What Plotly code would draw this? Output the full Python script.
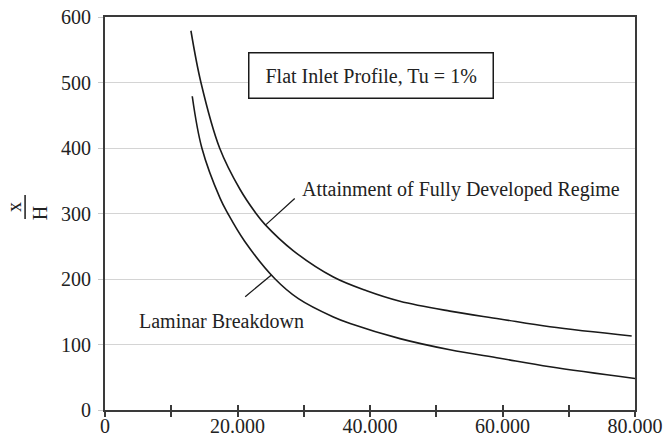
import plotly.graph_objects as go

# ---- data ----
UPPER_X = [12970, 14480, 17300, 20370, 22800, 24170, 28440, 34470, 39490, 44520, 52060, 59600, 67160, 79500]
UPPER_Y = [579, 500, 400, 337, 300, 283, 243, 203, 182, 166, 151, 139, 127, 113]

LOWER_X = [13170, 14620, 17380, 18540, 21050, 25680, 29190, 34470, 37000, 44520, 52060, 59600, 67160, 80000]
LOWER_Y = [479, 400, 323, 300, 258, 200, 170, 142, 132, 109, 92, 79, 66, 48]

X_TICK_VALS = [0, 10000, 20000, 30000, 40000, 50000, 60000, 70000, 80000]
X_TICK_TEXT = ["0", "", "20.000", "", "40.000", "", "60.000", "", "80.000"]
Y_TICK_VALS = [0, 100, 200, 300, 400, 500, 600]

BOX_TEXT = "Flat Inlet Profile, Tu = 1%"
BOX_POS = (40190, 510)
UPPER_LABEL = "Attainment of Fully Developed Regime"
UPPER_LABEL_POS = (29440, 337)
UPPER_LEADER = [(28860, 325), (24300, 283)]
LOWER_LABEL = "Laminar Breakdown"
LOWER_LABEL_POS = (4820, 136)
LOWER_LEADER = [(25340, 208), (21160, 173)]

FONT = "Liberation Serif, serif"
INK = "#1a1a1a"
AXC = "#3a3a3a"

fig = go.Figure()
fig.add_trace(go.Scatter(x=UPPER_X, y=UPPER_Y, mode="lines",
                         line=dict(color=INK, width=1.6, shape="spline", smoothing=1.0),
                         showlegend=False, hoverinfo="skip"))
fig.add_trace(go.Scatter(x=LOWER_X, y=LOWER_Y, mode="lines", xaxis="x2",
                         line=dict(color=INK, width=1.6, shape="spline", smoothing=1.0),
                         showlegend=False, hoverinfo="skip"))

tickfont = dict(family=FONT, size=20, color="#222")

fig.update_layout(
    width=666, height=440,
    margin=dict(l=105, r=31, t=17, b=30, autoexpand=False),
    paper_bgcolor="white", plot_bgcolor="white",
    font=dict(family=FONT, size=20, color="#222"),
    xaxis=dict(range=[0, 80000], tickvals=X_TICK_VALS, ticktext=X_TICK_TEXT,
               ticks="outside", ticklen=5, tickwidth=1.5, tickcolor=AXC,
               showline=True, linecolor=AXC, linewidth=2, mirror=True, automargin=False,
               showgrid=False, zeroline=False, tickfont=tickfont, ticklabelstandoff=-8),
    xaxis2=dict(range=[0, 80000], overlaying="x", matches="x", anchor="y", side="bottom",
                tickvals=X_TICK_VALS, ticks="inside", ticklen=5, tickwidth=1.5, tickcolor=AXC,
                automargin=False,
                showticklabels=False, showline=False, showgrid=False, zeroline=False),
    yaxis=dict(range=[0, 600], tickvals=Y_TICK_VALS, automargin=False,
               ticks="outside", ticklen=5, tickwidth=1, tickcolor="#c8c8c8",
               showline=True, linecolor=AXC, linewidth=2, mirror=True,
               showgrid=True, gridcolor="#d4d4d4", gridwidth=1.2,
               zeroline=False, tickfont=tickfont, ticklabelstandoff=3),
)

ann = []
ann.append(dict(x=BOX_POS[0], y=BOX_POS[1], xref="x", yref="y",
                text="\u00a0" + BOX_TEXT + "\u00a0", showarrow=False,
                font=dict(family=FONT, size=20, color="#222"),
                bordercolor=INK, borderwidth=1.5, borderpad=11, bgcolor="white"))
ann.append(dict(x=UPPER_LABEL_POS[0], y=UPPER_LABEL_POS[1], xref="x", yref="y",
                text=UPPER_LABEL, showarrow=False, xanchor="left",
                font=dict(family=FONT, size=20, color="#222")))
ann.append(dict(x=LOWER_LABEL_POS[0], y=LOWER_LABEL_POS[1], xref="x", yref="y",
                text=LOWER_LABEL, showarrow=False, xanchor="left",
                font=dict(family=FONT, size=20, color="#222")))
for (sx, sy), (ex, ey) in [UPPER_LEADER, LOWER_LEADER]:
    ann.append(dict(x=ex, y=ey, xref="x", yref="y", ax=sx, ay=sy, axref="x", ayref="y",
                    text="", showarrow=True, arrowhead=0, arrowwidth=1.3, arrowcolor=INK))
# y-axis title: rotated fraction x / H
ann.append(dict(x=-0.1715, y=0.5165, xref="paper", yref="paper", text="x", textangle=-90,
                xanchor="center", yanchor="middle",
                showarrow=False, font=dict(family=FONT, size=20, color="#222")))
ann.append(dict(x=-0.1225, y=0.501, xref="paper", yref="paper", text="H", textangle=-90,
                xanchor="center", yanchor="middle",
                showarrow=False, font=dict(family=FONT, size=20, color="#222")))
fig.update_layout(annotations=ann)
fig.add_shape(type="line", xref="paper", yref="paper", x0=-0.1508, x1=-0.1508,
              y0=0.486, y1=0.547, line=dict(color=INK, width=1.5))

fig.write_html("out.html")
